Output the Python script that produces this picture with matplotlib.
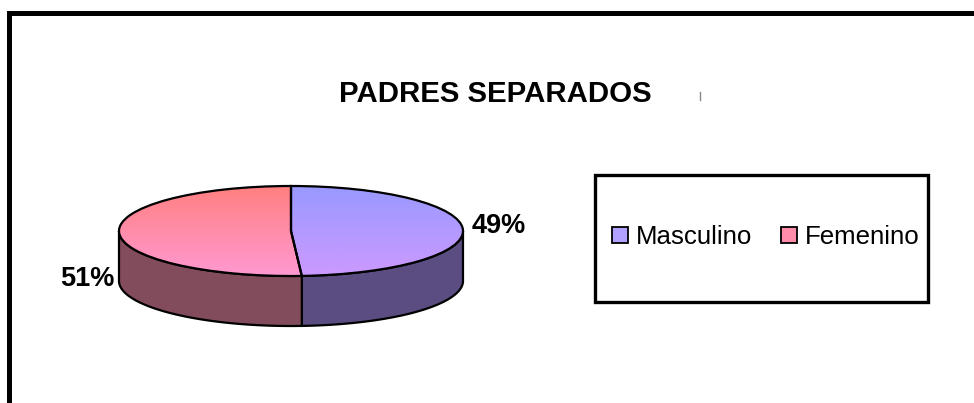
import numpy as np
import matplotlib
matplotlib.use("Agg")
import matplotlib.pyplot as plt
from matplotlib.patches import Patch, Rectangle
from matplotlib.lines import Line2D

plt.rcParams['font.family'] = ['Liberation Sans', 'DejaVu Sans']

title = "PADRES SEPARADOS"
categories = ["Masculino", "Femenino"]
values = [49, 51]
labels = ["49%", "51%"]
top_colors = [((153, 153, 255), (204, 153, 255)), ((255, 128, 128), (255, 153, 210))]
side_colors = ["#5b4c82", "#824c5c"]
legend_colors = ["#b3a1ff", "#ff8ca8"]

W, H = 974, 403
fig = plt.figure(figsize=(W / 100, H / 100), dpi=100)

# pie geometry (pixels)
cx, cy, a, b = 291, 231, 172, 45
depth = 50 / b
xl = (-1.2, 1.2)
yl = (-1 - depth - 0.2, 1.2)
ax_w = (xl[1] - xl[0]) * a
ax_h = (yl[1] - yl[0]) * b
left = cx + xl[0] * a
top = cy - yl[1] * b
ax = fig.add_axes([left / W, 1 - (top + ax_h) / H, ax_w / W, ax_h / H])

frac = np.array(values, dtype=float) / sum(values)
ts = np.deg2rad(90 - 360 * frac[0]) + 2 * np.pi  # split angle on front

# side walls (front half)
segs = [(ts, 2 * np.pi, side_colors[0]), (np.pi, ts, side_colors[1])]
for t0, t1, col in segs:
    t = np.linspace(t0, t1, 200)
    x = np.cos(t)
    y = np.sin(t)
    xs = np.concatenate([x, x[::-1]])
    ys = np.concatenate([y, (y - depth)[::-1]])
    ax.fill(xs, ys, facecolor=col, edgecolor='black', linewidth=1.6, zorder=1)

# top
wedges, _ = ax.pie(values, startangle=90, counterclock=False, radius=1, center=(0, 0),
                   colors=legend_colors, wedgeprops=dict(edgecolor='black', linewidth=1.6))
for w, (c0, c1) in zip(wedges, top_colors):
    n = 100
    grad = np.zeros((n, 1, 3))
    for k in range(3):
        grad[:, 0, k] = np.linspace(c0[k], c1[k], n) / 255
    im = ax.imshow(grad, extent=[-1, 1, -1, 1], aspect='auto', zorder=2, interpolation='bilinear')
    im.set_clip_path(w)
    w.set_facecolor('none')
    w.set_zorder(3)

ax.set_aspect('auto')
ax.set_xlim(*xl)
ax.set_ylim(*yl)
ax.axis('off')

# percentage labels
ax.text((499 - cx) / a, (cy - 226) / b, labels[0], ha='center', va='center',
        fontsize=19.5, fontweight='bold', clip_on=False)
ax.text((87 - cx) / a, (cy - 279) / b, labels[1], ha='center', va='center',
        fontsize=19.5, fontweight='bold', clip_on=False)

# title
fig.text(495 / W, 1 - 94 / H, title, ha='center', va='center', fontsize=21.2, fontweight='bold')

# legend box
lb = (595, 175, 928, 302)
fig.add_artist(Rectangle((lb[0] / W, 1 - lb[3] / H), (lb[2] - lb[0]) / W, (lb[3] - lb[1]) / H,
                         transform=fig.transFigure, facecolor='white', edgecolor='black', linewidth=2.4))
handles = [Patch(facecolor=c, edgecolor='black', linewidth=1.3) for c in legend_colors]
fig.legend(handles, categories, loc='center', bbox_to_anchor=(766 / W, 1 - 237 / H),
           ncol=2, frameon=False, fontsize=18.6, handlelength=0.62, handleheight=0.62,
           handletextpad=0.3, columnspacing=1.1, borderpad=0)

# outer border
fig.add_artist(Rectangle((9 / W, -0.2), 2, (H - 12.5) / H + 0.2, transform=fig.transFigure,
                         facecolor='none', edgecolor='black', linewidth=3.6))
fig.add_artist(Line2D([699.5 / W, 699.5 / W], [1 - 92 / H, 1 - 100 / H], color='#888888', linewidth=1))

fig.savefig("out.png", dpi=100)
